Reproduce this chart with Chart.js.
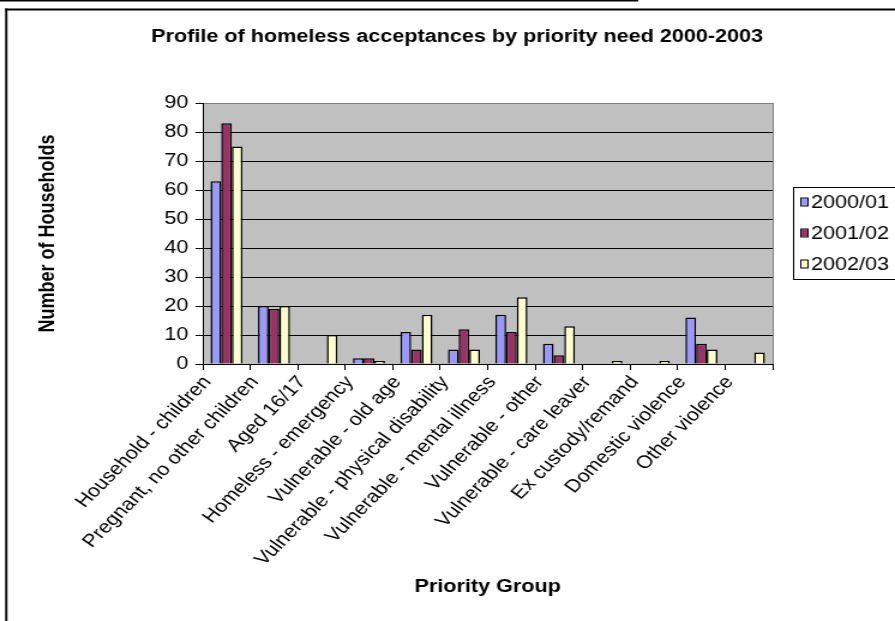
<!DOCTYPE html>
<html>
<head>
<meta charset="utf-8">
<script src="https://cdn.jsdelivr.net/npm/chart.js@4.4.1/dist/chart.umd.min.js"></script>
<style>
  html, body { margin: 0; padding: 0; background: #fff; overflow: hidden; }
  #wrap { width: 895px; height: 621px; overflow: hidden; position: relative; }
  /* the chart is laid out on a 746px-wide canvas and widened to 895px */
  #c { position: absolute; left: 0; top: 0; transform-origin: 0 0; transform: scaleX(1.19973); }
</style>
</head>
<body>
<div id="wrap"><canvas id="c" width="746" height="621"></canvas></div>
<script>
// Priority need groups
const categories = [
  'Household - children',
  'Pregnant, no other children',
  'Aged 16/17',
  'Homeless - emergency',
  'Vulnerable - old age',
  'Vulnerable - physical disability',
  'Vulnerable - mental illness',
  'Vulnerable - other',
  'Vulnerable - care leaver',
  'Ex custody/remand',
  'Domestic violence',
  'Other violence'
];

// Households accepted per year
const values2000 = [63, 20, 0, 2, 11, 5, 17, 7, 0, 0, 16, 0];
const values2001 = [83, 19, 0, 2, 5, 12, 11, 3, 0, 0, 7, 0];
const values2002 = [75, 20, 10, 1, 17, 5, 23, 13, 1, 1, 5, 4];

const seriesLabels = ['2000/01', '2001/02', '2002/03'];
const seriesColors = ['#9999FF', '#993366', '#FFFFCC'];
const yTicks = [0, 10, 20, 30, 40, 50, 60, 70, 80, 90];

const chartTitle = 'Profile of homeless acceptances by priority need 2000-2003';
const FONT = "'Liberation Sans', Arial, sans-serif";

Chart.defaults.font.family = FONT;
Chart.defaults.font.size = 18;
Chart.defaults.color = '#000';

// Page frame, plot background, chart title and boxed legend
const decor = {
  id: 'decor',
  beforeDraw(chart) {
    const { ctx, chartArea: a } = chart;
    ctx.save();
    ctx.fillStyle = '#fff';
    ctx.fillRect(0, 0, chart.width, chart.height);
    ctx.fillStyle = '#C0C0C0';
    ctx.fillRect(a.left, a.top, a.right - a.left, a.bottom - a.top);
    ctx.restore();
  },
  afterDraw(chart) {
    const { ctx, chartArea: a } = chart;
    ctx.save();
    // plot area right edge
    ctx.strokeStyle = '#808080';
    ctx.lineWidth = 1;
    ctx.beginPath();
    ctx.moveTo(Math.round(a.right) + 0.5, a.top);
    ctx.lineTo(Math.round(a.right) + 0.5, a.bottom);
    ctx.stroke();

    // outer frame
    ctx.fillStyle = '#000';
    ctx.fillRect(0, 0, 532, 1.5);
    ctx.fillRect(4.3, 8.5, chart.width, 2);
    ctx.fillRect(4.3, 8.5, 1.9, chart.height);

    // title
    ctx.font = 'bold 18px ' + FONT;
    ctx.textAlign = 'center';
    ctx.textBaseline = 'middle';
    ctx.fillText(chartTitle, 381, 37);

    // legend
    ctx.strokeStyle = '#000';
    ctx.lineWidth = 1;
    ctx.strokeRect(661.5, 187.5, 120, 92);
    ctx.font = '18px ' + FONT;
    ctx.textAlign = 'left';
    chart.data.datasets.forEach((ds, i) => {
      const y = 202 + i * 31;
      ctx.fillStyle = ds.backgroundColor;
      ctx.fillRect(668, y - 3.5, 5, 7);
      ctx.strokeRect(667.5, y - 4, 6, 8);
      ctx.fillStyle = '#000';
      ctx.fillText(ds.label, 676, y + 1);
    });
    ctx.restore();
  }
};

const datasets = [values2000, values2001, values2002].map((vals, i) => ({
  label: seriesLabels[i],
  data: vals,
  backgroundColor: seriesColors[i],
  borderColor: '#000',
  borderWidth: 1.5,
  categoryPercentage: 0.674,
  barPercentage: 1.0
}));

new Chart(document.getElementById('c'), {
  type: 'bar',
  data: { labels: categories, datasets },
  plugins: [decor],
  options: {
    responsive: false,
    animation: false,
    devicePixelRatio: 1,
    layout: { padding: { top: 103, right: 102, bottom: 0, left: 0 } },
    plugins: {
      legend: { display: false },
      title: { display: false },
      tooltip: { enabled: false }
    },
    scales: {
      x: {
        ticks: {
          autoSkip: false,
          minRotation: 50,
          maxRotation: 50,
          padding: 2,
          labelOffset: -16,
          font: { size: 18 },
          color: '#000'
        },
        grid: { offset: true, drawOnChartArea: false, color: '#000', tickLength: 6 },
        border: { color: '#000', width: 1 },
        title: {
          display: true,
          text: 'Priority Group',
          font: { size: 18, weight: 'bold' },
          color: '#000',
          padding: { top: 0, bottom: 23 }
        },
        afterFit(scale) { scale.height = 257; }
      },
      y: {
        min: 0,
        max: 90,
        afterBuildTicks(scale) { scale.ticks = yTicks.map(v => ({ value: v })); },
        ticks: { padding: 6, font: { size: 18 }, color: '#000' },
        grid: {
          color: c => (c.tick && c.tick.value === 90 ? '#808080' : '#000'),
          tickColor: '#000',
          tickLength: 6,
          lineWidth: 1
        },
        border: { color: '#000', width: 1 },
        title: {
          display: true,
          text: 'Number of Households',
          font: { size: 18, weight: 'bold' },
          color: '#000',
          padding: { top: 29, bottom: 0 }
        },
        afterFit(scale) { scale.width = 169; }
      }
    }
  }
});
</script>
</body>
</html>
